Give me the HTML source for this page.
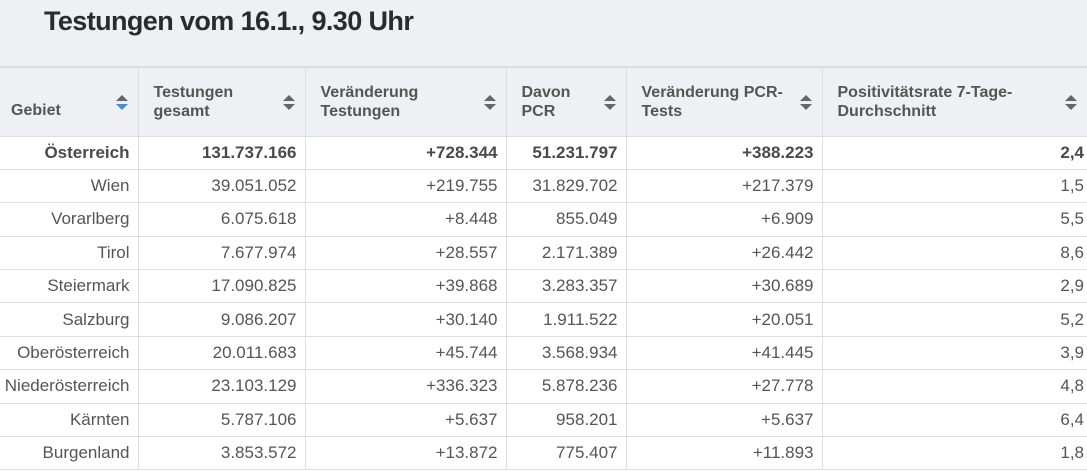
<!DOCTYPE html>
<html><head><meta charset="utf-8"><style>
body{margin:0;width:1087px;height:471px;overflow:hidden;background:#fff;font-family:"Liberation Sans",sans-serif;color:#4a4a4a}
.top{position:absolute;left:0;top:0;width:1087px;height:66px;background:#eef0f4}
.top h1{position:absolute;left:44px;top:6px;margin:0;font-size:27px;font-weight:bold;color:#2b2b2b;letter-spacing:-0.6px}
table{position:absolute;left:0;top:66px;border-collapse:collapse;table-layout:fixed;width:1087px}
th{background:#eef0f4;height:69px;box-sizing:border-box;border:1px solid #dcdde3;border-top:2px solid #dcdde3;text-align:left;vertical-align:middle;padding:0 30px 0 15px;font-size:16px;line-height:19px;font-weight:bold;color:#555;position:relative}
th:first-child{border-left:none;padding-left:11px}
th:first-child .lbl{position:relative;top:9px}
th:last-child{border-right:none}
td{height:32.4px;border:1px solid #dcdde3;text-align:right;padding:0 8px 0 4px;font-size:17px;color:#555;white-space:nowrap}
td:first-child{border-left:none}
td:last-child{border-right:none;padding-right:3px}
tr.bold td{font-weight:bold;color:#4a4a4a}
.sort{position:absolute;right:10px;top:27px;width:12px;height:18px}
.up{position:absolute;left:0;top:0;border-left:6px solid transparent;border-right:6px solid transparent;border-bottom:6px solid #666}
.dn{position:absolute;left:0;top:9px;border-left:6px solid transparent;border-right:6px solid transparent;border-top:6px solid #666}
.dn.blue{border-top-color:#3d8fe0}
</style></head><body>
<div class="top"><h1>Testungen vom 16.1., 9.30 Uhr</h1></div>
<table>
<colgroup><col style="width:138px"><col style="width:167px"><col style="width:201px"><col style="width:120px"><col style="width:196px"><col style="width:265px"></colgroup>
<thead><tr>
<th><span class="lbl">Gebiet</span><span class="sort"><i class="up"></i><i class="dn blue"></i></span></th>
<th>Testungen<br>gesamt<span class="sort"><i class="up"></i><i class="dn"></i></span></th>
<th>Veränderung<br>Testungen<span class="sort"><i class="up"></i><i class="dn"></i></span></th>
<th>Davon<br>PCR<span class="sort"><i class="up"></i><i class="dn"></i></span></th>
<th>Veränderung PCR-<br>Tests<span class="sort"><i class="up"></i><i class="dn"></i></span></th>
<th>Positivitätsrate 7-Tage-<br>Durchschnitt<span class="sort"><i class="up"></i><i class="dn"></i></span></th>
</tr></thead>
<tbody>
<tr class="bold"><td>Österreich</td><td>131.737.166</td><td>+728.344</td><td>51.231.797</td><td>+388.223</td><td>2,4</td></tr>
<tr><td>Wien</td><td>39.051.052</td><td>+219.755</td><td>31.829.702</td><td>+217.379</td><td>1,5</td></tr>
<tr><td>Vorarlberg</td><td>6.075.618</td><td>+8.448</td><td>855.049</td><td>+6.909</td><td>5,5</td></tr>
<tr><td>Tirol</td><td>7.677.974</td><td>+28.557</td><td>2.171.389</td><td>+26.442</td><td>8,6</td></tr>
<tr><td>Steiermark</td><td>17.090.825</td><td>+39.868</td><td>3.283.357</td><td>+30.689</td><td>2,9</td></tr>
<tr><td>Salzburg</td><td>9.086.207</td><td>+30.140</td><td>1.911.522</td><td>+20.051</td><td>5,2</td></tr>
<tr><td>Oberösterreich</td><td>20.011.683</td><td>+45.744</td><td>3.568.934</td><td>+41.445</td><td>3,9</td></tr>
<tr><td>Niederösterreich</td><td>23.103.129</td><td>+336.323</td><td>5.878.236</td><td>+27.778</td><td>4,8</td></tr>
<tr><td>Kärnten</td><td>5.787.106</td><td>+5.637</td><td>958.201</td><td>+5.637</td><td>6,4</td></tr>
<tr><td>Burgenland</td><td>3.853.572</td><td>+13.872</td><td>775.407</td><td>+11.893</td><td>1,8</td></tr>
</tbody></table>
</body></html>
